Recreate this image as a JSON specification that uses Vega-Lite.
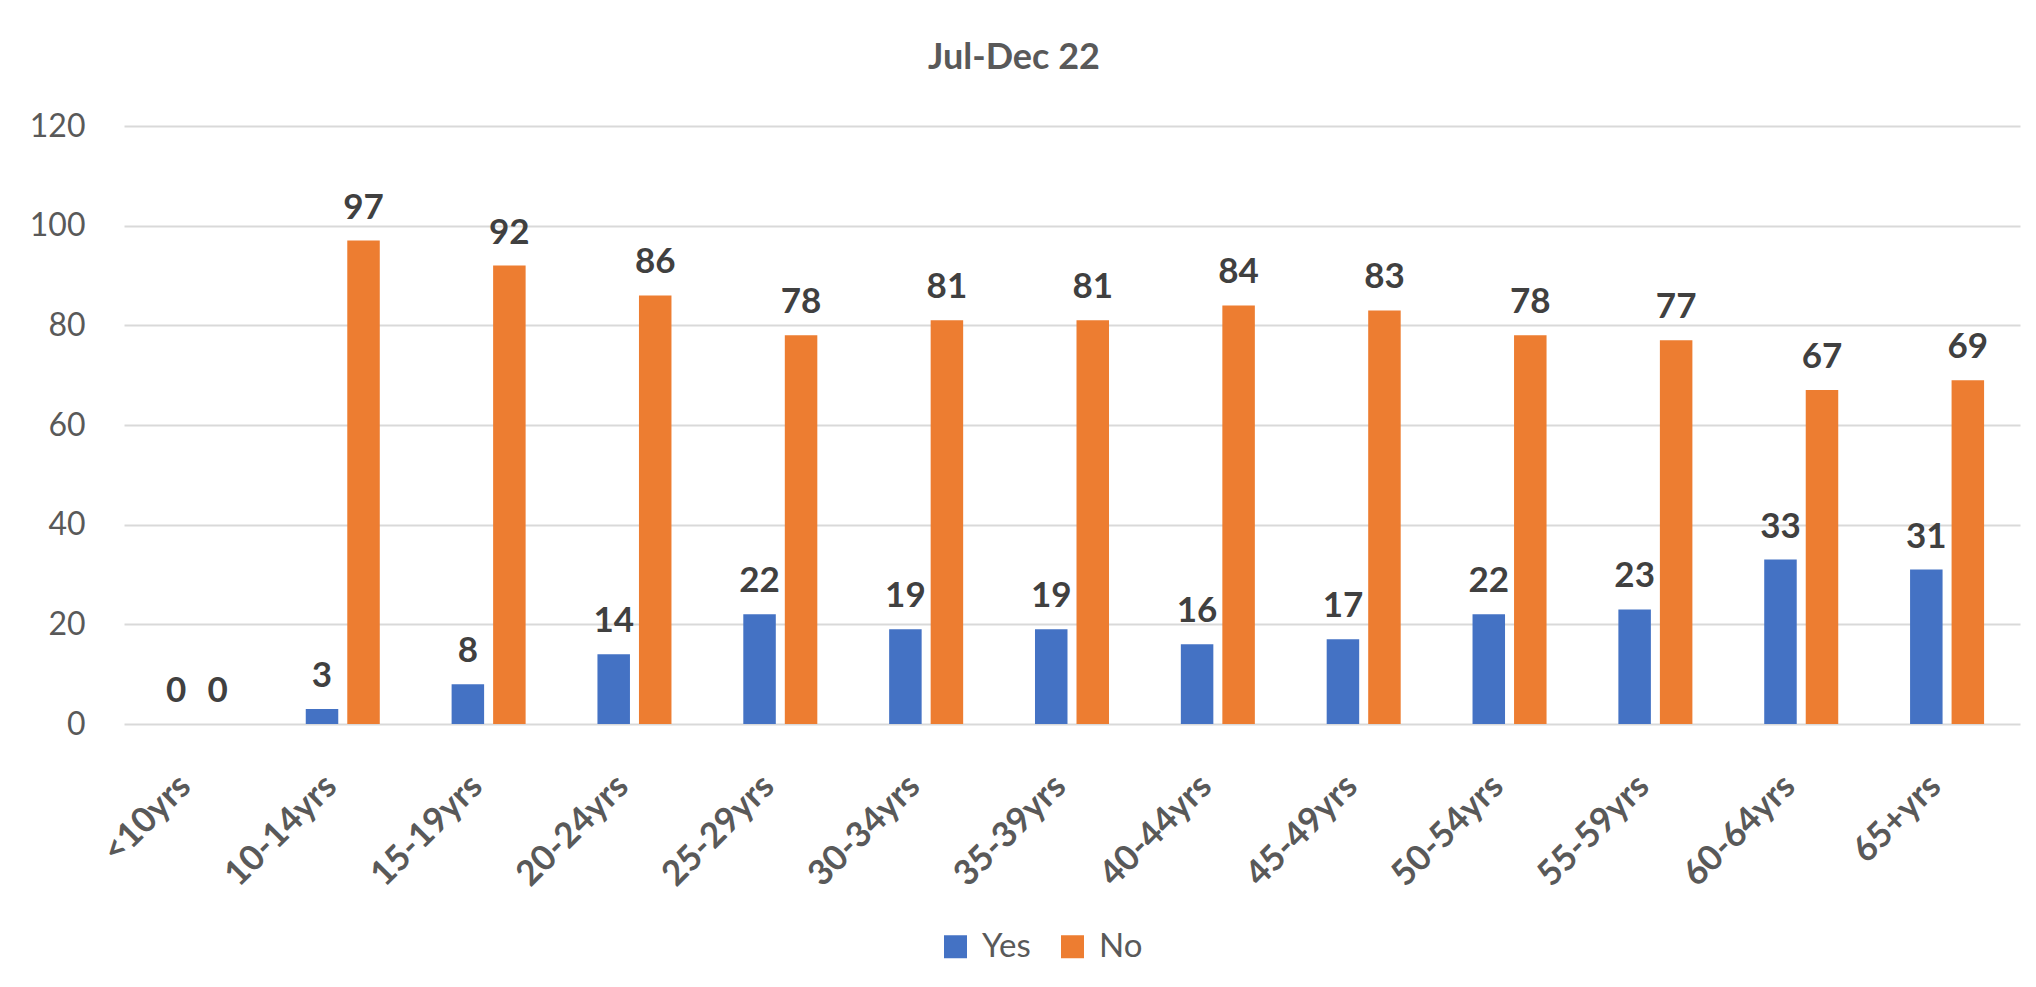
{
  "$schema": "https://vega.github.io/schema/vega-lite/v6.json",
  "autosize": {"type": "none"},
  "padding": {"left": 124, "top": 126, "right": 16, "bottom": 263},
  "width": 1896,
  "height": 598,
  "background": "white",
  "title": {
    "text": "Jul-Dec 22",
    "font": "Lato",
    "fontSize": 36,
    "fontWeight": "bold",
    "color": "#595959",
    "anchor": "middle",
    "baseline": "alphabetic",
    "offset": 5,
    "dx": -58
  },
  "data": {
    "values": [
      {"age": "<10yrs", "group": "Yes", "value": 0},
      {"age": "<10yrs", "group": "No", "value": 0},
      {"age": "10-14yrs", "group": "Yes", "value": 3},
      {"age": "10-14yrs", "group": "No", "value": 97},
      {"age": "15-19yrs", "group": "Yes", "value": 8},
      {"age": "15-19yrs", "group": "No", "value": 92},
      {"age": "20-24yrs", "group": "Yes", "value": 14},
      {"age": "20-24yrs", "group": "No", "value": 86},
      {"age": "25-29yrs", "group": "Yes", "value": 22},
      {"age": "25-29yrs", "group": "No", "value": 78},
      {"age": "30-34yrs", "group": "Yes", "value": 19},
      {"age": "30-34yrs", "group": "No", "value": 81},
      {"age": "35-39yrs", "group": "Yes", "value": 19},
      {"age": "35-39yrs", "group": "No", "value": 81},
      {"age": "40-44yrs", "group": "Yes", "value": 16},
      {"age": "40-44yrs", "group": "No", "value": 84},
      {"age": "45-49yrs", "group": "Yes", "value": 17},
      {"age": "45-49yrs", "group": "No", "value": 83},
      {"age": "50-54yrs", "group": "Yes", "value": 22},
      {"age": "50-54yrs", "group": "No", "value": 78},
      {"age": "55-59yrs", "group": "Yes", "value": 23},
      {"age": "55-59yrs", "group": "No", "value": 77},
      {"age": "60-64yrs", "group": "Yes", "value": 33},
      {"age": "60-64yrs", "group": "No", "value": 67},
      {"age": "65+yrs", "group": "Yes", "value": 31},
      {"age": "65+yrs", "group": "No", "value": 69}
    ]
  },
  "encoding": {
    "x": {
      "field": "age",
      "type": "nominal",
      "sort": null,
      "scale": {"paddingInner": 0.4925, "paddingOuter": 0.24625},
      "axis": {
        "title": null,
        "labelAngle": -45,
        "labelFont": "Lato",
        "labelFontSize": 35,
        "labelFontWeight": "bold",
        "labelColor": "#595959",
        "labelPadding": 44,
        "labelOffset": -24,
        "ticks": false,
        "domain": false,
        "grid": false
      }
    },
    "xOffset": {
      "field": "group",
      "type": "nominal",
      "sort": ["Yes", "No"],
      "scale": {"paddingInner": 0.217, "paddingOuter": 0}
    },
    "y": {
      "field": "value",
      "type": "quantitative",
      "scale": {"domain": [0, 120], "nice": false},
      "axis": {
        "title": null,
        "values": [0, 20, 40, 60, 80, 100, 120],
        "labelFont": "Lato",
        "labelFontSize": 32,
        "labelColor": "#595959",
        "labelPadding": 39,
        "ticks": false,
        "domain": false,
        "grid": true,
        "gridColor": "#d9d9d9",
        "gridWidth": 2
      }
    }
  },
  "layer": [
    {
      "mark": {"type": "bar"},
      "encoding": {
        "color": {
          "field": "group",
          "type": "nominal",
          "sort": ["Yes", "No"],
          "scale": {"domain": ["Yes", "No"], "range": ["#4472C4", "#ED7D31"]},
          "legend": {
            "title": null,
            "orient": "none",
            "direction": "horizontal",
            "legendX": 815,
            "legendY": 804,
            "padding": 0,
            "symbolType": "square",
            "symbolSize": 529,
            "symbolStrokeWidth": 0,
            "labelFont": "Lato",
            "labelFontSize": 33,
            "labelColor": "#595959",
            "labelOffset": 10,
            "columnPadding": 25
          }
        }
      }
    },
    {
      "mark": {
        "type": "text",
        "font": "Lato",
        "fontSize": 35,
        "fontWeight": "bold",
        "color": "#404040",
        "baseline": "alphabetic",
        "dy": -22
      },
      "encoding": {
        "text": {"field": "value", "type": "quantitative"}
      }
    }
  ],
  "config": {
    "view": {"stroke": null}
  }
}
